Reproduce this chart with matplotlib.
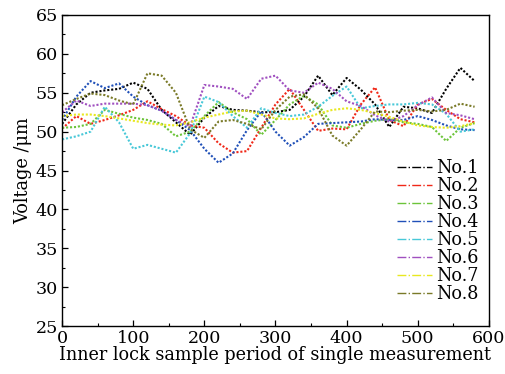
import matplotlib
matplotlib.use("Agg")
import matplotlib.pyplot as plt
from matplotlib.lines import Line2D
from matplotlib.ticker import MultipleLocator

# sample index (every 20 periods)
samples = list(range(0, 600, 20))

no1 = [51.0, 53.5, 55.0, 55.3, 55.5, 56.3, 55.5, 52.8, 51.2, 49.6,
       51.8, 53.3, 52.8, 52.7, 52.5, 52.5, 52.8, 54.5, 57.2, 54.7,
       56.9, 55.4, 53.5, 50.6, 53.2, 53.0, 52.4, 55.5, 58.2, 56.5]
no2 = [50.4, 52.0, 51.0, 51.5, 52.1, 52.8, 53.9, 52.9, 52.0, 50.8,
       50.5, 48.5, 47.3, 47.5, 50.5, 53.5, 55.5, 52.8, 50.1, 50.4,
       50.3, 53.5, 55.7, 51.5, 50.7, 53.5, 54.2, 52.8, 51.6, 51.2]
no3 = [50.5, 50.6, 51.0, 52.8, 52.3, 51.8, 51.5, 51.0, 49.4, 50.0,
       52.0, 53.8, 52.5, 51.6, 49.6, 51.5, 53.5, 54.6, 53.5, 50.8,
       50.5, 51.0, 51.4, 51.6, 51.2, 51.0, 50.6, 48.8, 50.5, 51.1]
no4 = [51.5, 54.5, 56.5, 55.6, 56.2, 54.5, 53.4, 52.7, 51.5, 50.2,
       47.8, 46.0, 47.2, 50.2, 52.6, 50.0, 48.2, 49.3, 51.0, 51.1,
       51.2, 51.3, 51.6, 51.5, 51.5, 52.0, 51.5, 50.8, 50.3, 50.2]
no5 = [49.0, 49.4, 50.0, 53.2, 51.2, 47.8, 48.3, 47.8, 47.3, 49.8,
       54.5, 53.8, 52.0, 50.5, 53.0, 52.4, 52.0, 52.2, 53.2, 54.6,
       55.8, 53.0, 53.3, 53.5, 53.5, 53.7, 53.5, 52.3, 50.0, 50.3]
no6 = [52.5, 54.0, 53.3, 53.6, 53.6, 53.6, 53.4, 52.7, 51.5, 50.7,
       56.0, 55.8, 55.5, 54.2, 56.8, 57.2, 55.3, 55.0, 56.3, 55.5,
       53.9, 53.3, 52.1, 51.3, 52.0, 53.4, 54.4, 52.4, 52.1, 51.6]
no7 = [52.0, 52.2, 52.2, 52.0, 51.7, 51.4, 51.1, 50.9, 50.8, 51.2,
       51.8, 52.2, 52.6, 52.7, 52.2, 51.7, 51.6, 51.7, 52.3, 52.8,
       53.0, 52.8, 52.4, 51.9, 51.3, 50.8, 50.6, 50.5, 50.7, 51.1]
no8 = [53.4, 54.2, 54.9, 54.7, 54.0, 53.5, 57.5, 57.2, 55.0, 50.3,
       49.2, 51.3, 51.5, 51.0, 50.3, 52.8, 54.5, 54.8, 53.0, 49.5,
       48.2, 50.3, 52.6, 52.5, 52.7, 52.8, 52.6, 52.8, 53.6, 53.2]

series = [no1, no2, no3, no4, no5, no6, no7, no8]
labels = ["No.1", "No.2", "No.3", "No.4", "No.5", "No.6", "No.7", "No.8"]
colors = ["#000000", "#f02818", "#6cc43a", "#2050b8",
          "#48c8d8", "#a050c0", "#e8e820", "#7a7a28"]

plt.rcParams["font.family"] = "DejaVu Serif"

fig = plt.figure(figsize=(5.05, 3.74), dpi=100)
ax = fig.add_axes([0.123, 0.128, 0.845, 0.832])

# dotted traces, one per measurement
for vals, c in zip(series, colors):
    ax.plot(samples, vals, color=c, lw=1.5, linestyle=(0, (1.0, 0.9)),
            dash_capstyle="butt")

ax.set_xlim(0, 600)
ax.set_ylim(25, 65)
ax.xaxis.set_major_locator(MultipleLocator(100))
ax.xaxis.set_minor_locator(MultipleLocator(50))
ax.yaxis.set_major_locator(MultipleLocator(5))
ax.yaxis.set_minor_locator(MultipleLocator(2.5))
ax.tick_params(which="both", direction="in", top=False, right=False,
               labelsize=12.6)
ax.tick_params(which="major", length=4, width=0.9, pad=3)
ax.tick_params(which="minor", length=2.5, width=0.8)
for s in ax.spines.values():
    s.set_linewidth(1.0)

ax.set_xlabel("Inner lock sample period of single measurement",
              fontsize=12.7, labelpad=-1)
ax.set_ylabel("Voltage /\u03bcm", fontsize=12.8, labelpad=2)

handles = [Line2D([], [], color=c, lw=1.0, linestyle="-.") for c in colors]
ax.legend(handles, labels, loc="lower right", bbox_to_anchor=(1.0, 0.04),
          frameon=False, fontsize=12.7, handlelength=2.0, handletextpad=0.2,
          labelspacing=0.0, borderaxespad=0.2)

fig.savefig("out.png", dpi=100)
